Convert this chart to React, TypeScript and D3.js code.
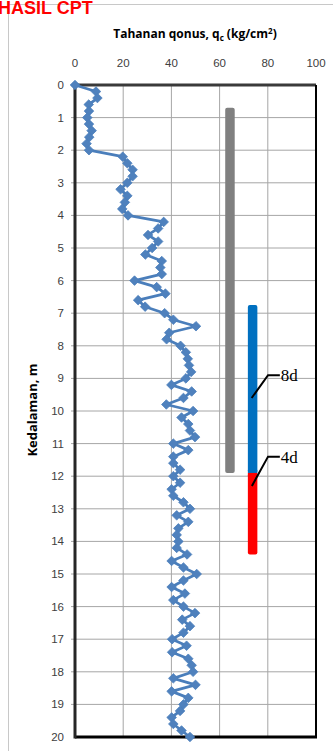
import React from 'react';
import * as d3 from 'd3';

const depths = [0, 0.2, 0.4, 0.6, 0.8, 1, 1.2, 1.4, 1.6, 1.8, 2, 2.2, 2.4, 2.6, 2.8, 3, 3.2, 3.4, 3.6, 3.8, 4, 4.2, 4.4, 4.6, 4.8, 5, 5.2, 5.4, 5.6, 5.8, 6, 6.2, 6.4, 6.6, 6.8, 7, 7.2, 7.4, 7.6, 7.8, 8, 8.2, 8.4, 8.6, 8.8, 9, 9.2, 9.4, 9.6, 9.8, 10, 10.2, 10.4, 10.6, 10.8, 11, 11.2, 11.4, 11.6, 11.8, 12, 12.2, 12.4, 12.6, 12.8, 13, 13.2, 13.4, 13.6, 13.8, 14, 14.2, 14.4, 14.6, 14.8, 15, 15.2, 15.4, 15.6, 15.8, 16, 16.2, 16.4, 16.6, 16.8, 17, 17.2, 17.4, 17.6, 17.8, 18, 18.2, 18.4, 18.6, 18.8, 19, 19.2, 19.4, 19.6, 19.8, 20];

const qcValues = [0, 8.7, 9.3, 5.7, 5.8, 5.1, 5.8, 6.9, 5.9, 4.8, 5.8, 19.8, 21.7, 23.9, 23.9, 21.7, 18.9, 21.7, 20.7, 19.6, 22, 36.8, 34.5, 30.3, 34.5, 32, 29.2, 36, 35.4, 36, 24.7, 33.9, 37.5, 26.2, 29.1, 37.2, 40.8, 50.2, 39.1, 38, 43.8, 46, 46.8, 47.3, 48.2, 46, 40, 48.4, 45, 37.9, 49, 44.2, 47, 47.7, 49.8, 40.8, 47, 40.8, 40.8, 43.6, 40.8, 43.6, 40.1, 40.8, 45, 47.7, 42.2, 47, 42.9, 42.2, 42.9, 42.2, 46.5, 40.1, 45, 50.5, 45, 40.1, 45.6, 40.8, 45, 49.8, 44.5, 47.7, 45, 40.3, 46.3, 40.3, 47, 48.4, 49, 40.8, 50, 40.1, 47, 45, 43.6, 40.1, 40.8, 44.2, 47.7];

const xTicks = [0, 20, 40, 60, 80, 100];
const yTicks = [0, 1, 2, 3, 4, 5, 6, 7, 8, 9, 10, 11, 12, 13, 14, 15, 16, 17, 18, 19, 20];

const barNames = ['pile', 'upper', 'lower'];
const barX = [64.3, 73.7, 73.7];
const barTop = [0.7, 6.75, 11.9];
const barBottom = [11.9, 11.9, 14.4];
const barColors = ['#808080', '#0070C0', '#FF0000'];

const noteLabels = ['8d', '4d'];
const noteTipX = [73.3, 73.4];
const noteTipDepth = [9.6, 12.3];
const noteElbowX = [80.1, 80.1];
const noteDepth = [8.9, 11.4];
const noteEndX = [85, 85];

const W = 333;
const H = 751;
const left = 75;
const right = 316;
const top = 85;
const bottom = 737;

export default function App() {
  const x = d3.scaleLinear().domain([0, 100]).range([left, right]);
  const y = d3.scaleLinear().domain([0, 20]).range([top, bottom]);
  const line = d3
    .line<number>()
    .x((d) => x(d))
    .y((_, i) => y(depths[i]));
  const diamond = 'M0,-4.8L4.8,0L0,4.8L-4.8,0Z';
  const tickFont = "'Liberation Sans', Arial, sans-serif";
  const titleFont = "'Open Sans', 'Liberation Sans', sans-serif";

  return (
    <div style={{ position: 'fixed', left: 0, top: 0, width: W, height: H, background: '#fff' }}>
      <svg width={W} height={H} style={{ display: 'block' }}>
        <rect x={0} y={0} width={W} height={H} fill="#fff" />
        {/* outer chart frame */}
        <line x1={8.5} y1={4.5} x2={W} y2={4.5} stroke="#c8c8c8" strokeWidth={1} />
        <line x1={8.5} y1={4.5} x2={8.5} y2={H} stroke="#c8c8c8" strokeWidth={1} />
        <text x={-2} y={14} fill="#ff0000" fontFamily={tickFont} fontWeight="bold" fontSize={18}>
          HASIL CPT
        </text>

        {/* gridlines */}
        {xTicks.slice(1, -1).map((t) => (
          <line key={'gx' + t} x1={x(t)} x2={x(t)} y1={top} y2={bottom} stroke="#a6a6a6" strokeWidth={1} />
        ))}
        {yTicks.slice(1, -1).map((t) => (
          <line key={'gy' + t} x1={left - 4} x2={right} y1={y(t)} y2={y(t)} stroke="#a6a6a6" strokeWidth={1} />
        ))}

        {/* axes frame */}
        <line x1={left} x2={right} y1={top} y2={top} stroke="#3a3a3a" strokeWidth={3} />
        <line x1={right} x2={right} y1={top} y2={bottom} stroke="#000" strokeWidth={2} />
        <line x1={left} x2={right + 1} y1={bottom} y2={bottom} stroke="#000" strokeWidth={3} />
        <line x1={left} x2={left} y1={top - 1.5} y2={bottom + 1.5} stroke="#262626" strokeWidth={3} />

        {/* tick labels */}
        {xTicks.map((t) => (
          <text key={'tx' + t} x={x(t)} y={67} textAnchor="middle" fontFamily={tickFont} fontSize={11.5} fill="#404040">
            {String(t)}
          </text>
        ))}
        {yTicks.map((t) => (
          <text key={'ty' + t} x={64} y={y(t) + 4} textAnchor="end" fontFamily={tickFont} fontSize={11.5} fill="#404040">
            {String(t)}
          </text>
        ))}

        {/* axis titles */}
        <text x={195} y={38} textAnchor="middle" fontFamily={titleFont} fontWeight="bold" fontSize={12} fill="#000">
          Tahanan qonus, q
          <tspan fontSize={8} dy={3}>c</tspan>
          <tspan dy={-3}> (kg/cm</tspan>
          <tspan fontSize={8} dy={-4}>2</tspan>
          <tspan dy={4}>)</tspan>
        </text>
        <text
          transform="translate(37, 410) rotate(-90)"
          textAnchor="middle"
          fontFamily={titleFont}
          fontWeight="bold"
          fontSize={13}
          fill="#000"
        >
          Kedalaman, m
        </text>

        {/* pile bars */}
        {barNames.map((n, i) => (
          <rect
            key={n}
            x={x(barX[i]) - 4.75}
            width={9.5}
            y={y(barTop[i])}
            height={y(barBottom[i]) - y(barTop[i])}
            rx={2}
            fill={barColors[i]}
          />
        ))}
        <rect x={x(barX[1]) - 4.75} width={9.5} y={y(barBottom[1]) - 3} height={3} fill={barColors[1]} />
        <rect x={x(barX[2]) - 4.75} width={9.5} y={y(barTop[2])} height={3} fill={barColors[2]} />

        {/* annotations */}
        {noteLabels.map((l, i) => (
          <g key={l}>
            <polyline
              points={`${x(noteTipX[i])},${y(noteTipDepth[i])} ${x(noteElbowX[i])},${y(noteDepth[i])} ${x(noteEndX[i])},${y(noteDepth[i])}`}
              fill="none"
              stroke="#000"
              strokeWidth={2}
            />
            <text
              x={x(noteEndX[i]) + 1}
              y={y(noteDepth[i]) + 6}
              fontFamily="'Liberation Serif', 'Times New Roman', serif"
              fontSize={17}
              fill="#000"
            >
              {l}
            </text>
          </g>
        ))}

        {/* CPT series */}
        <path d={line(qcValues) || ''} fill="none" stroke="#4a7ebb" strokeWidth={2.75} strokeLinejoin="round" />
        {qcValues.map((v, i) => (
          <path key={'m' + i} d={diamond} transform={`translate(${x(v)},${y(depths[i])})`} fill="#4f81bd" stroke="#4a7ebb" strokeWidth={0.75} />
        ))}
      </svg>
    </div>
  );
}
